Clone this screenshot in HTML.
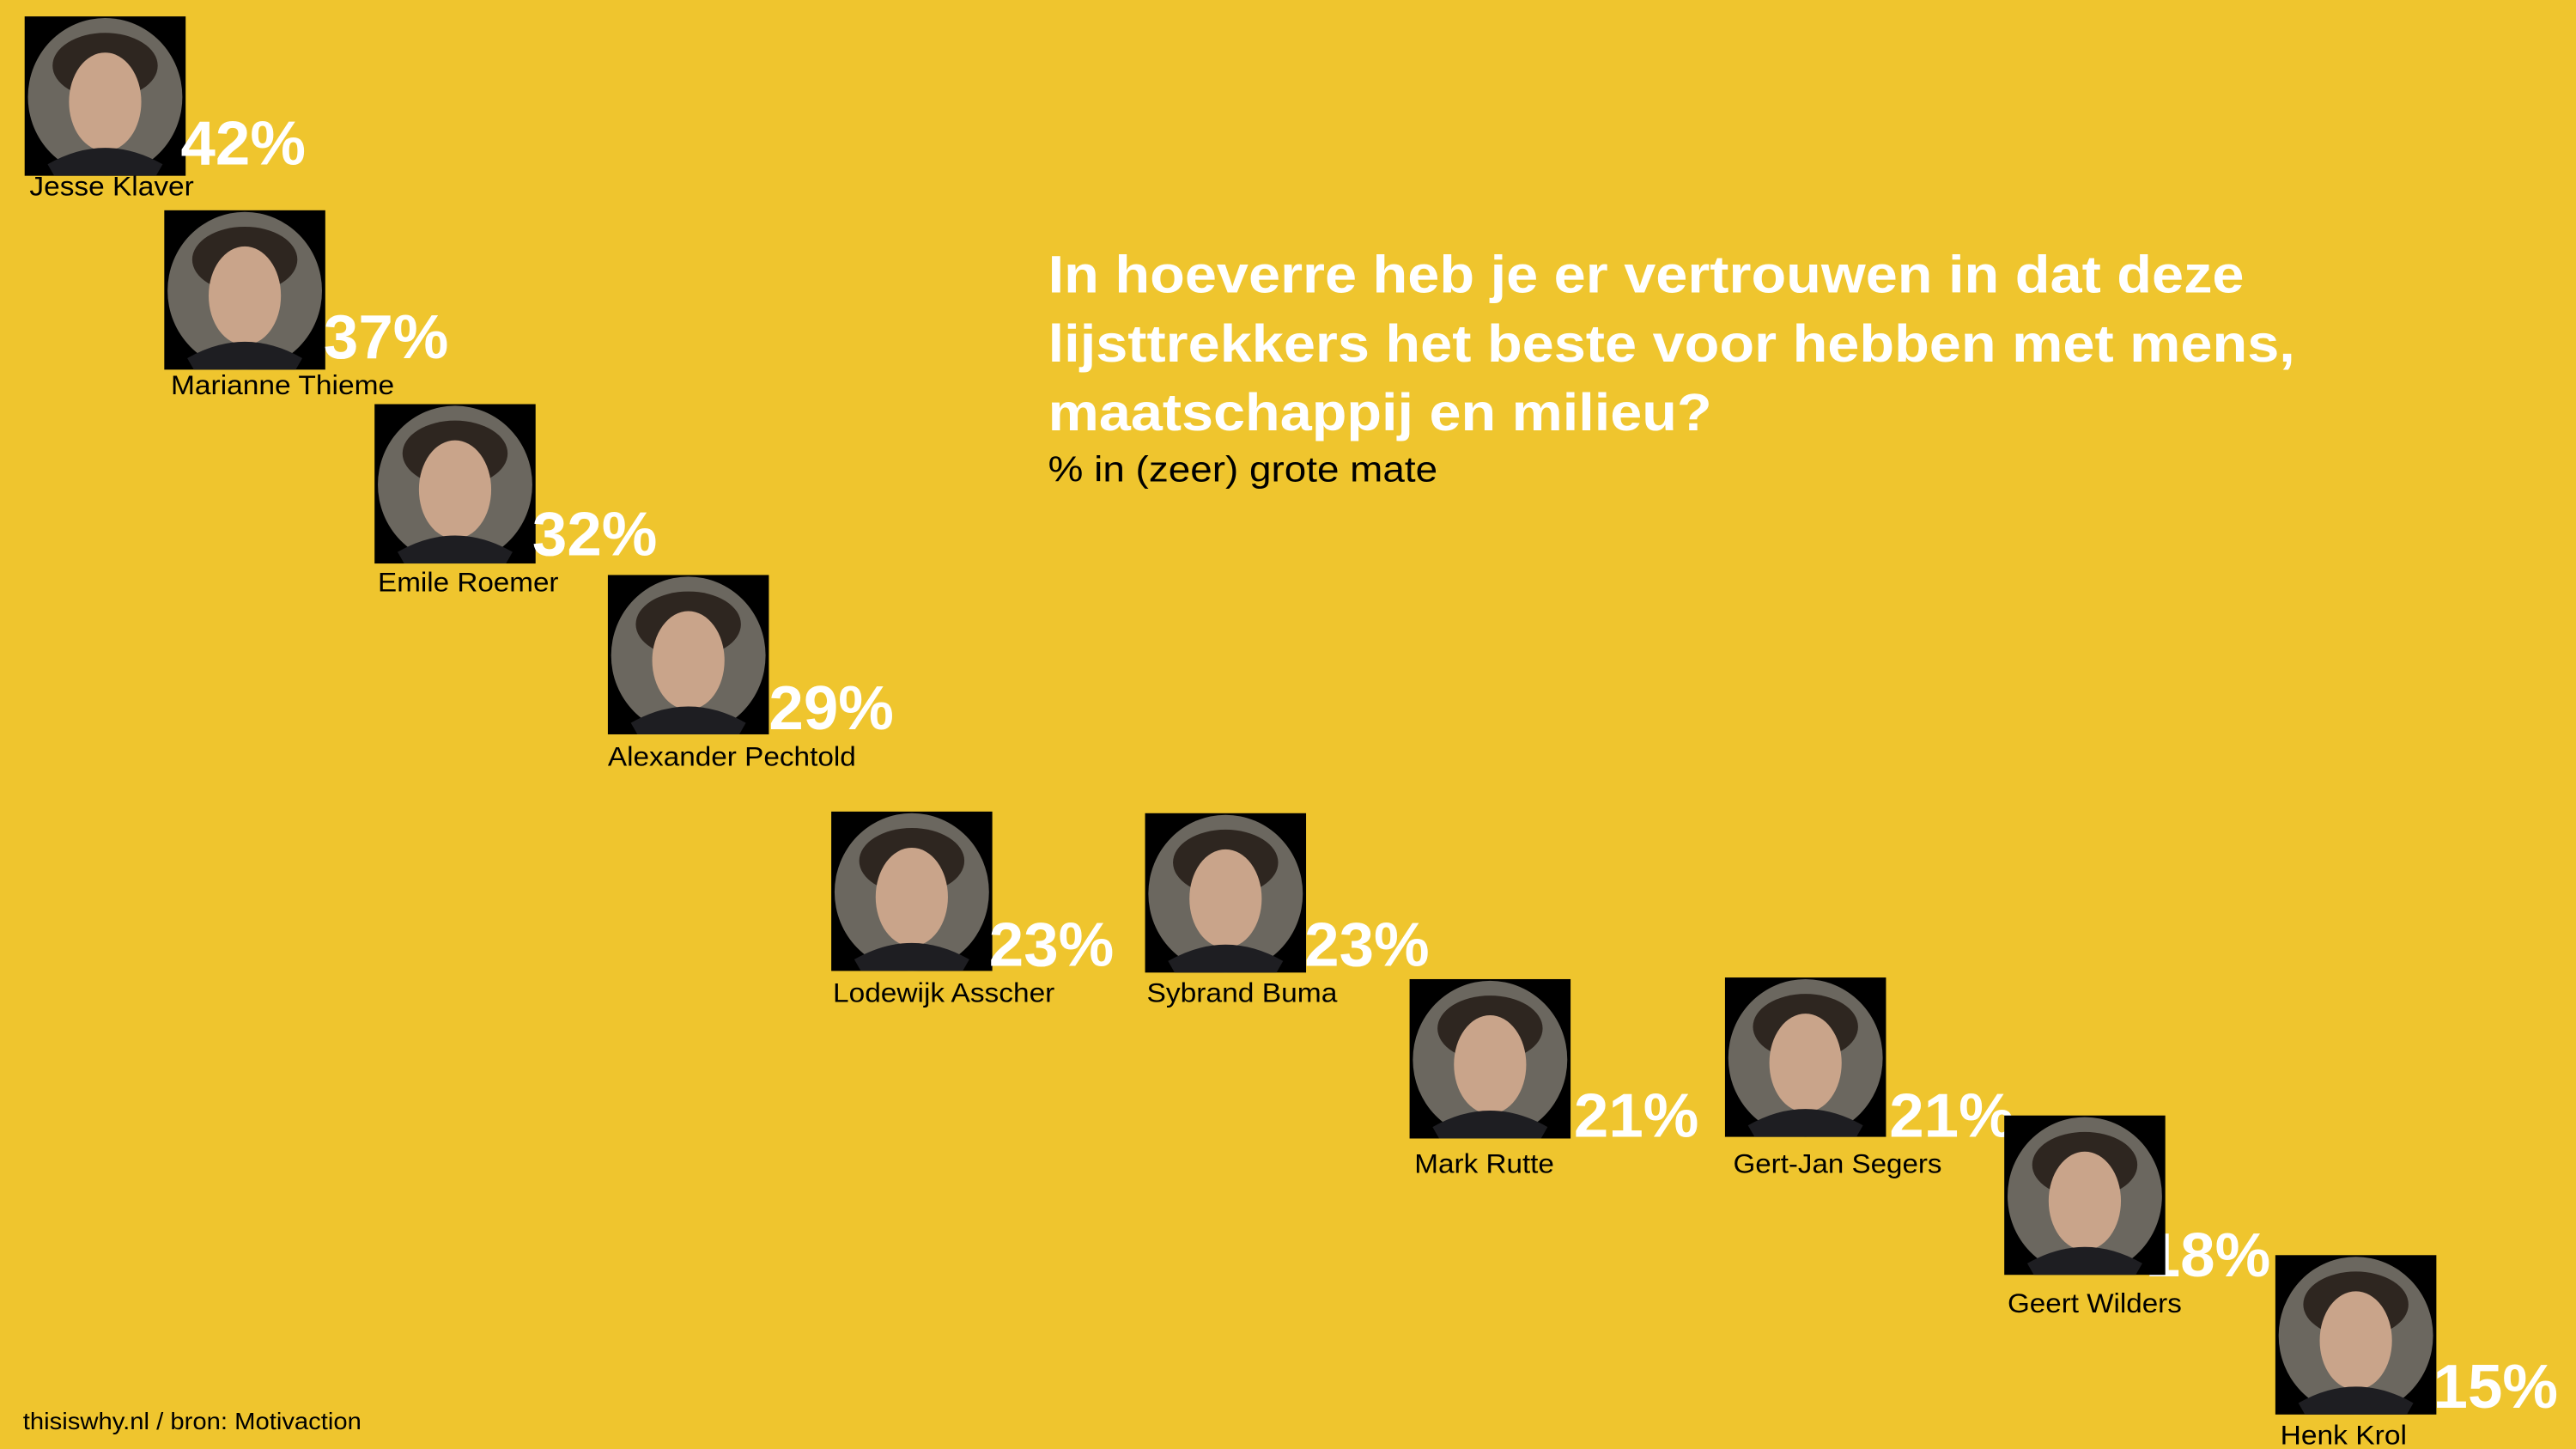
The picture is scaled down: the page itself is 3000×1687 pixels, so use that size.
<!DOCTYPE html>
<html><head><meta charset="utf-8"><style>
html,body{margin:0;padding:0;background:#EFC52E;}
svg{display:block;}
.p{font-family:"Liberation Sans",Arial,sans-serif;font-weight:bold;fill:#fff;font-size:38px;}
.n{font-family:"Liberation Sans",Arial,sans-serif;fill:#000;font-size:16.5px;}
.t{font-family:"Liberation Sans",Arial,sans-serif;font-weight:bold;fill:#fff;font-size:32px;}
</style></head><body>
<svg width="3000" height="1687" viewBox="0 0 1568 882" preserveAspectRatio="none" xmlns="http://www.w3.org/2000/svg">
<rect width="1568" height="882" fill="#EFC52E"/>
<defs>
<g id="ph">
<rect x="0" y="0" width="98" height="97" fill="#000"/>
<ellipse cx="49" cy="49" rx="47" ry="48" fill="#6b675f"/>
<ellipse cx="49" cy="30" rx="32" ry="20" fill="#2e2620"/>
<ellipse cx="49" cy="52" rx="22" ry="30" fill="#c9a48a"/>
<path d="M14 90 Q49 70 84 90 L80 97 L18 97Z" fill="#1e1e22"/>
</g>
</defs>
<use href="#ph" x="15" y="10"/>
<text class="p" x="110" y="100">42%</text>
<text class="n" x="18" y="119" textLength="100" lengthAdjust="spacingAndGlyphs">Jesse Klaver</text>

<use href="#ph" x="100" y="128"/>
<text class="p" x="197" y="218">37%</text>
<text class="n" x="104" y="240" textLength="136" lengthAdjust="spacingAndGlyphs">Marianne Thieme</text>

<use href="#ph" x="228" y="246"/>
<text class="p" x="324" y="338">32%</text>
<text class="n" x="230" y="360" textLength="110" lengthAdjust="spacingAndGlyphs">Emile Roemer</text>

<use href="#ph" x="370" y="350"/>
<text class="p" x="468" y="444">29%</text>
<text class="n" x="370" y="466" textLength="151" lengthAdjust="spacingAndGlyphs">Alexander Pechtold</text>

<use href="#ph" x="506" y="494"/>
<text class="p" x="602" y="588">23%</text>
<text class="n" x="507" y="610" textLength="135" lengthAdjust="spacingAndGlyphs">Lodewijk Asscher</text>

<use href="#ph" x="697" y="495"/>
<text class="p" x="794" y="588">23%</text>
<text class="n" x="698" y="610" textLength="116" lengthAdjust="spacingAndGlyphs">Sybrand Buma</text>

<text class="p" x="1150" y="692">21%</text>
<use href="#ph" x="858" y="596"/>
<text class="p" x="958" y="692">21%</text>
<text class="n" x="861" y="714" textLength="85" lengthAdjust="spacingAndGlyphs">Mark Rutte</text>

<use href="#ph" x="1050" y="595"/>
<text class="n" x="1055" y="714" textLength="127" lengthAdjust="spacingAndGlyphs">Gert-Jan Segers</text>

<text class="p" x="1306" y="777">18%</text>
<use href="#ph" x="1220" y="679"/>
<text class="n" x="1222" y="799" textLength="106" lengthAdjust="spacingAndGlyphs">Geert Wilders</text>

<use href="#ph" x="1385" y="764"/>
<text class="p" x="1481" y="857">15%</text>
<text class="n" x="1388" y="879" textLength="77" lengthAdjust="spacingAndGlyphs">Henk Krol</text>

<text class="t" x="638" y="178" textLength="728" lengthAdjust="spacingAndGlyphs">In hoeverre heb je er vertrouwen in dat deze</text>
<text class="t" x="638" y="220" textLength="759" lengthAdjust="spacingAndGlyphs">lijsttrekkers het beste voor hebben met mens,</text>
<text class="t" x="638" y="262" textLength="404" lengthAdjust="spacingAndGlyphs">maatschappij en milieu?</text>
<text class="n" x="638" y="293" style="font-size:22px" textLength="237" lengthAdjust="spacingAndGlyphs">% in (zeer) grote mate</text>
<text class="n" x="14" y="870" style="font-size:14.5px" textLength="206" lengthAdjust="spacingAndGlyphs">thisiswhy.nl  / bron: Motivaction</text>
</svg>
</body></html>
